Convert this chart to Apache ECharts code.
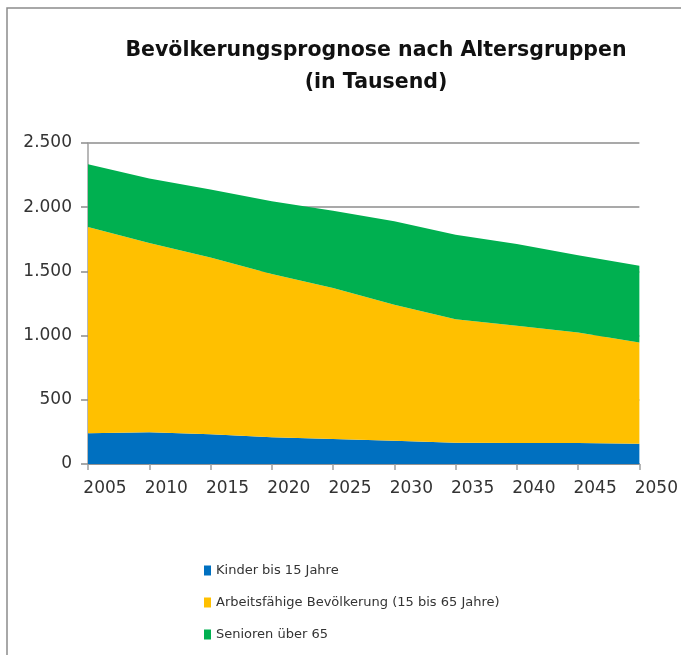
<!DOCTYPE html>
<html>
<head>
<meta charset="utf-8">
<script src="https://cdn.jsdelivr.net/npm/echarts@6/dist/echarts.min.js"></script>
<style>
  html, body { margin: 0; padding: 0; background: #fff; }
  #chart { width: 681px; height: 655px; }
</style>
</head>
<body>
<div id="chart"></div>
<script>
// Jahre und Werte (in Tausend)
var years = ['2005', '2010', '2015', '2020', '2025', '2030', '2035', '2040', '2045', '2050'];
var kinder = [240, 247, 232, 208, 195, 182, 166, 164, 164, 158];
var arbeitsfaehige = [1606, 1474, 1377, 1272, 1175, 1058, 962, 912, 860, 788];
var senioren = [489, 502, 528, 566, 603, 650, 658, 638, 601, 598];
var seriesNames = ['Kinder bis 15 Jahre', 'Arbeitsfähige Bevölkerung (15 bis 65 Jahre)', 'Senioren über 65'];
var colors = ['#0070C0', '#FFC000', '#00B050'];

var font = 'DejaVu Sans';

var myChart = echarts.init(document.getElementById('chart'));

var option = {
    animation: false,
    color: colors,
    title: {
        text: 'Bevölkerungsprognose nach Altersgruppen\n(in Tausend)',
        left: 371,
        top: 30,
        textAlign: 'center',
        textStyle: {
            fontFamily: font,
            fontSize: 20.5,
            fontWeight: 'bold',
            color: '#111',
            lineHeight: 32
        }
    },
    legend: {
        orient: 'vertical',
        left: 199,
        top: 559,
        itemGap: 19,
        itemWidth: 7,
        itemHeight: 10,
        icon: 'rect',
        textStyle: { fontFamily: font, fontSize: 13, color: '#333' },
        data: seriesNames
    },
    grid: {
        left: 88,
        right: 41,
        top: 143,
        bottom: 191,
        containLabel: false
    },
    xAxis: {
        type: 'category',
        boundaryGap: false,
        data: years,
        axisLine: { show: true, lineStyle: { color: '#8c8c8c', width: 1.5 } },
        axisTick: { show: true, length: 6, lineStyle: { color: '#a0a0a0', width: 1.5 } },
        splitLine: { show: false },
        axisLabel: {
            fontFamily: font,
            fontSize: 17,
            color: '#333',
            margin: 16,
            padding: [0, 0, 0, 34]
        }
    },
    yAxis: {
        type: 'value',
        min: 0,
        max: 2500,
        interval: 500,
        axisLine: { show: true, lineStyle: { color: '#a0a0a0', width: 1.5 } },
        axisTick: { show: true, length: 7, lineStyle: { color: '#8c8c8c', width: 1.5 } },
        splitLine: { show: true, lineStyle: { color: '#8c8c8c', width: 1.5 } },
        axisLabel: {
            fontFamily: font,
            fontSize: 17,
            color: '#333',
            margin: 16,
            formatter: function (v) {
                return String(v).replace(/\B(?=(\d{3})+(?!\d))/g, '.');
            }
        }
    },
    graphic: [{
        type: 'rect',
        shape: { x: 7, y: 8, width: 700, height: 700 },
        style: { fill: 'none', stroke: '#8c8c8c', lineWidth: 1.5 },
        silent: true
    }],
    series: [kinder, arbeitsfaehige, senioren].map(function (arr, i) {
        return {
            name: seriesNames[i],
            type: 'line',
            stack: 'total',
            symbol: 'none',
            lineStyle: { width: 0 },
            areaStyle: { color: colors[i], opacity: 1 },
            data: arr
        };
    })
};

myChart.setOption(option);
</script>
</body>
</html>
